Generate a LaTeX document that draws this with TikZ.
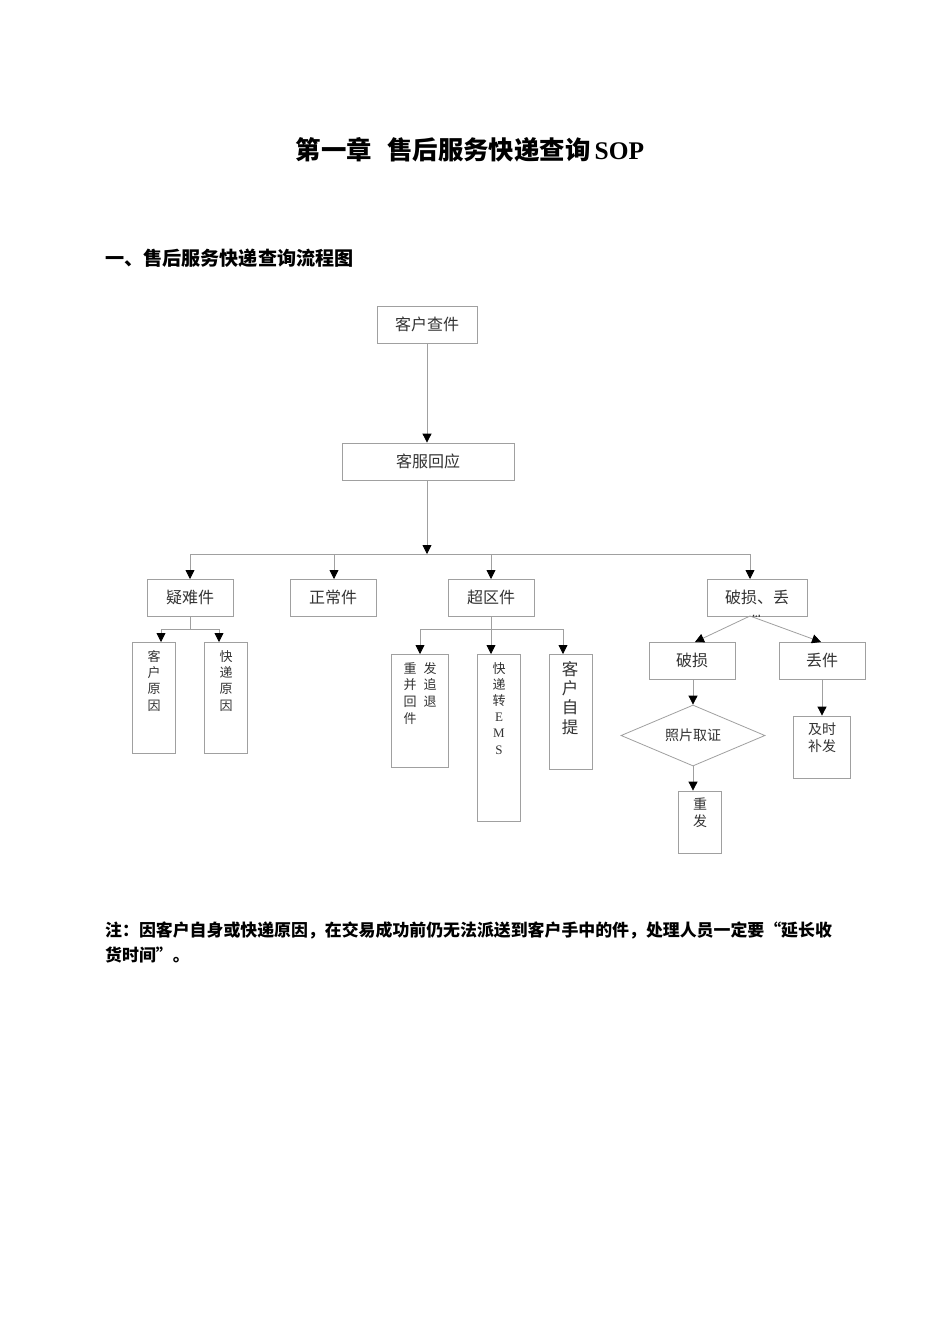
\documentclass[tikz,border=0pt]{standalone}
\usepackage{fontspec}
\setmainfont{Liberation Serif}
\newfontfamily\cjk{Noto Sans CJK SC}
\usetikzlibrary{arrows.meta,shapes.geometric}
\definecolor{lngray}{HTML}{A0A0A0}
\definecolor{txt}{HTML}{333333}
\tikzset{
  box/.style={draw=lngray, line width=0.8pt, rectangle, inner sep=0pt, text=txt},
  lbl/.style={text=txt, inner sep=0pt, align=center},
  ln/.style={draw=lngray, line width=0.8pt},
  arr/.style={draw=lngray, line width=0.8pt, -{Triangle[width=9pt,length=9pt,fill=black,color=black]}},
}
\begin{document}
\begin{tikzpicture}[x=1pt,y=-1pt]
\path[use as bounding box, fill=white] (0,0) rectangle (950,1344);

% headings
\node[inner sep=0pt, font=\bfseries\fontsize{25.4}{29}\selectfont] (title) at (470,150) {{\cjk\bfseries 第一章\hspace{0.6em}售后服务快递查询}\,SOP};
\node[inner sep=0pt, anchor=west, font=\cjk\bfseries\fontsize{19.1}{22}\selectfont] (head) at (105,258) {一、售后服务快递查询流程图};
\node[inner sep=0pt, anchor=west, font=\cjk\bfseries\fontsize{16.9}{20}\selectfont] (note1) at (105,930) {注：因客户自身或快递原因，在交易成功前仍无法派送到客户手中的件，处理人员一定要“延长收};
\node[inner sep=0pt, anchor=west, font=\cjk\bfseries\fontsize{16.9}{20}\selectfont] (note2) at (105,955) {货时间”。};

% top boxes
\node[box, minimum width=100pt, minimum height=37pt, font=\cjk\fontsize{16}{19}\selectfont] (khcj) at (427,324.5) {客户查件};
\node[box, minimum width=172pt, minimum height=37pt, font=\cjk\fontsize{16}{19}\selectfont] (kfhy) at (428,461.5) {客服回应};

\coordinate (bus) at (427,554);
\draw[arr] (khcj.south) -- (khcj.south |- kfhy.north);
\draw[arr] (kfhy.south -| bus) -- (bus);

% second row
\node[box, minimum width=86pt, minimum height=37pt, font=\cjk\fontsize{16}{19}\selectfont] (ynj) at (190,597.5) {疑难件};
\node[box, minimum width=86pt, minimum height=37pt, font=\cjk\fontsize{16}{19}\selectfont] (zcj) at (333,597.5) {正常件};
\node[box, minimum width=86pt, minimum height=37pt, font=\cjk\fontsize{16}{19}\selectfont] (cqj) at (491,597.5) {超区件};
\node[box, minimum width=100pt, minimum height=37pt] (psd) at (757,597.5) {};
\node[lbl, font=\cjk\fontsize{16}{19}\selectfont] (psdt) at (757,597) {破损、丢};
\begin{scope}
\clip (707,579) rectangle (807,616);
\node[lbl, font=\cjk\fontsize{16}{19}\selectfont] (psdj) at (757,622) {件};
\end{scope}

\draw[ln] (190,554) -- (750,554);
\draw[arr] (190,554) -- (190,579);
\draw[arr] (334,554) -- (334,579);
\draw[arr] (491,554) -- (491,579);
\draw[arr] (750,554) -- (750,579);

% 疑难件 children
\node[box, minimum width=43pt, minimum height=111pt] (khyy) at (153.5,697.5) {};
\node[box, minimum width=43pt, minimum height=111pt] (kdyy) at (225.5,697.5) {};
\node[lbl, anchor=north, font=\cjk\fontsize{13}{16.3}\selectfont] (khyyt) at (154,650) {客\\户\\原\\因};
\node[lbl, anchor=north, font=\cjk\fontsize{13}{16.3}\selectfont] (kdyyt) at (226,650) {快\\递\\原\\因};
\draw[ln] (ynj.south) -- (190,629);
\draw[ln] (161,629) -- (219,629);
\draw[arr] (161,629) -- (161,642);
\draw[arr] (219,629) -- (219,642);

% 超区件 children
\node[box, minimum width=57pt, minimum height=113pt] (cfzh) at (419.5,710.5) {};
\node[lbl, anchor=north, font=\cjk\fontsize{13}{16.8}\selectfont] (cfzh1) at (410,662) {重\\并\\回\\件};
\node[lbl, anchor=north, font=\cjk\fontsize{13}{16.8}\selectfont] (cfzh2) at (430,662) {发\\追\\退};
\node[box, minimum width=43pt, minimum height=167pt] (kdems) at (498.5,737.5) {};
\node[lbl, anchor=north, font=\cjk\fontsize{13}{16.2}\selectfont] (kdemst) at (499,662) {快\\递\\转\\{\rmfamily E}\\{\rmfamily M}\\{\rmfamily S}};
\node[box, minimum width=43pt, minimum height=115pt] (khzt) at (570.5,711.5) {};
\node[lbl, anchor=north, font=\cjk\fontsize{16.5}{19.3}\selectfont] (khztt) at (570,661) {客\\户\\自\\提};
\draw[ln] (cqj.south) -- (491,629);
\draw[ln] (420,629) -- (563,629);
\draw[arr] (420,629) -- (420,654);
\draw[arr] (491,629) -- (491,654);
\draw[arr] (563,629) -- (563,654);

% 破损、丢件 children
\node[box, minimum width=86pt, minimum height=37pt, font=\cjk\fontsize{16}{19}\selectfont] (ps) at (692,660.5) {破损};
\node[box, minimum width=86pt, minimum height=37pt, font=\cjk\fontsize{16}{19}\selectfont] (dj) at (822,660.5) {丢件};
\draw[arr] (750,616) -- (695,642);
\draw[arr] (750,616) -- (821,642);

\node[draw=lngray, line width=0.8pt, diamond, aspect=2.36, minimum width=144pt, minimum height=61pt, inner sep=0pt, text=txt, font=\cjk\fontsize{14}{17}\selectfont] (zpqz) at (693,735.5) {照片取证};
\draw[arr] (ps.south -| zpqz.north) -- (zpqz.north);

\node[box, minimum width=43pt, minimum height=62pt] (cf) at (699.5,822) {};
\node[lbl, anchor=north, font=\cjk\fontsize{14}{17}\selectfont] (cft) at (700,798) {重\\发};
\draw[arr] (zpqz.south) -- (zpqz.south |- cf.north);

\node[box, minimum width=57pt, minimum height=62pt] (jsbf) at (821.5,747) {};
\node[lbl, anchor=north, font=\cjk\fontsize{14}{17}\selectfont] (jsbft) at (822,723) {及时\\补发};
\draw[arr] (dj.south) -- (dj.south |- jsbf.north);

\end{tikzpicture}
\end{document}
